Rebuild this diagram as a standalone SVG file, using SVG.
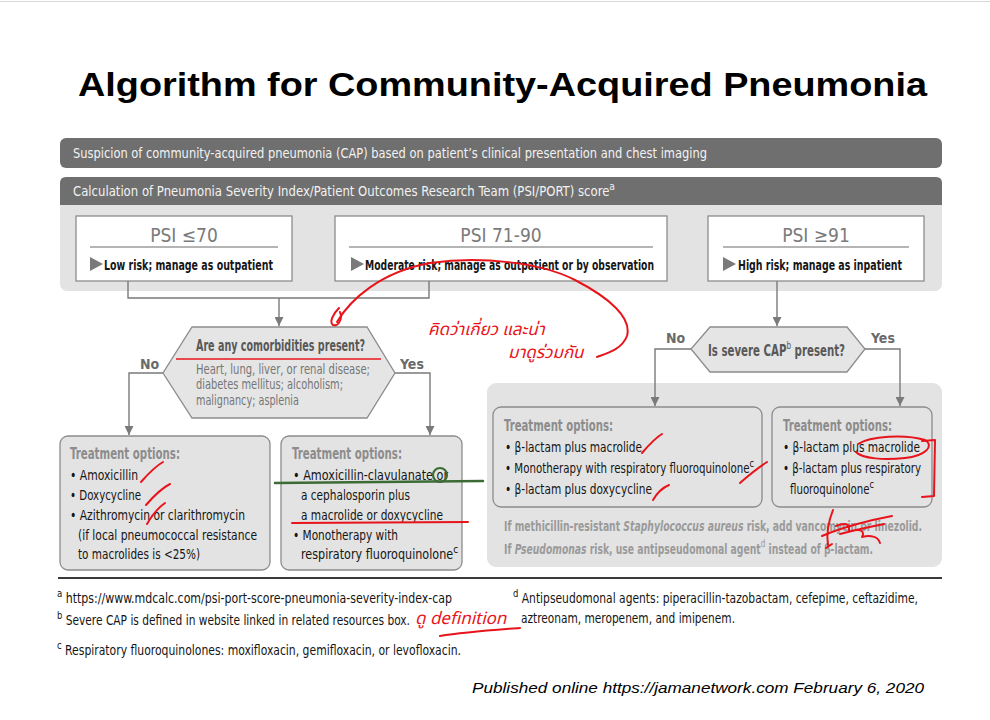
<svg xmlns="http://www.w3.org/2000/svg" width="990" height="720" viewBox="0 0 990 720">
  <style>
    .cn { font-family: "Liberation Sans Narrow", "DejaVu Sans Condensed", "DejaVu Sans", sans-serif; font-stretch: condensed; }
    .bar { fill: #6f6f6f; }
    .bartxt { fill: #f2f2f2; font-size: 14px; }
    .panel { fill: #e3e3e3; }
    .box { fill: #ffffff; stroke: #8c8c8c; stroke-width: 1.3; }
    .tbox { fill: #e3e3e3; stroke: #8c8c8c; stroke-width: 1.3; }
    .hex { fill: #e5e5e5; stroke: #8c8c8c; stroke-width: 1.3; }
    .psi { fill: #7a7a7a; font-size: 19px; text-anchor: middle; }
    .risk { fill: #161616; font-size: 14px; font-weight: bold; }
    .rule { stroke: #6a6a6a; stroke-width: 1; }
    .tri { fill: #7a7a7a; }
    .q { fill: #585858; font-size: 15.5px; font-weight: bold; }
    .qd { fill: #767676; font-size: 13.5px; }
    .lbl { fill: #6a6a6a; font-size: 14px; font-weight: bold; }
    .th { fill: #8c8c8c; font-size: 15px; font-weight: bold; }
    .it { fill: #151515; font-size: 14px; }
    .note { fill: #9a9a9a; font-size: 14px; font-weight: bold; }
    .fn { fill: #151515; font-size: 14px; }
    .sup { font-size: 11px; font-weight: normal; }
    .link { fill: none; stroke: #7a7a7a; stroke-width: 1.4; }
    .pen { fill: none; stroke: #e8141b; stroke-width: 2; stroke-linecap: round; stroke-linejoin: round; }
    .penT { fill: #e8141b; font-family: "Noto Sans Thai", "Loma", "Garuda", "Noto Sans", sans-serif; font-size: 17px; font-style: italic; }
  </style>
  <defs>
    <marker id="arr" viewBox="0 0 10 10" refX="10" refY="5" markerWidth="9" markerHeight="9" markerUnits="userSpaceOnUse" orient="auto">
      <path d="M0,0 L10,5 L0,10 Z" fill="#7a7a7a"/>
    </marker>
  </defs>

  <rect x="0" y="0" width="990" height="720" fill="#ffffff"/>
  <line x1="0" y1="1.5" x2="990" y2="1.5" stroke="#d8d8d8" stroke-width="1"/>

  <!-- Title -->
  <text x="78" y="96" font-family="'Liberation Sans', Arial, sans-serif" font-size="34" font-weight="bold" fill="#000" textLength="849" lengthAdjust="spacingAndGlyphs">Algorithm for Community-Acquired Pneumonia</text>

  <!-- Header bars -->
  <g id="suspicion">
    <rect class="bar" x="60" y="138" width="882" height="30" rx="6"/>
    <text class="cn bartxt" x="73" y="158" textLength="634" lengthAdjust="spacingAndGlyphs">Suspicion of community-acquired pneumonia (CAP) based on patient’s clinical presentation and chest imaging</text>
  </g>

  <g id="psi-panel">
    <rect class="panel" x="60" y="177" width="882" height="114" rx="7"/>
    <path class="bar" d="M60,205 V183 Q60,177 66,177 H936 Q942,177 942,183 V205 Z"/>
    <text class="cn bartxt" x="73" y="196" textLength="542" lengthAdjust="spacingAndGlyphs">Calculation of Pneumonia Severity Index/Patient Outcomes Research Team (PSI/PORT) score<tspan class="sup" dy="-6">a</tspan></text>
  </g>

  <!-- PSI boxes -->
  <g id="psi-low">
    <rect class="box" x="76" y="216" width="216" height="65"/>
    <text class="cn psi" x="184" y="242">PSI ≤70</text>
    <line class="rule" x1="90" y1="247" x2="278" y2="247"/>
    <polygon class="tri" points="90,257 103,264 90,271"/>
    <text class="cn risk" x="104" y="270" textLength="169" lengthAdjust="spacingAndGlyphs">Low risk; manage as outpatient</text>
  </g>
  <g id="psi-moderate">
    <rect class="box" x="335" y="216" width="332" height="65"/>
    <text class="cn psi" x="501" y="242">PSI 71-90</text>
    <line class="rule" x1="349" y1="247" x2="653" y2="247"/>
    <polygon class="tri" points="351,257 364,264 351,271"/>
    <text class="cn risk" x="365" y="270" textLength="289" lengthAdjust="spacingAndGlyphs">Moderate risk; manage as outpatient or by observation</text>
  </g>
  <g id="psi-high">
    <rect class="box" x="708" y="216" width="216" height="65"/>
    <text class="cn psi" x="816" y="242">PSI ≥91</text>
    <line class="rule" x1="723" y1="247" x2="909" y2="247"/>
    <polygon class="tri" points="723,257 736,264 723,271"/>
    <text class="cn risk" x="738" y="270" textLength="164" lengthAdjust="spacingAndGlyphs">High risk; manage as inpatient</text>
  </g>

  <!-- Inpatient treatment panel -->
  <rect class="panel" x="487" y="383" width="455" height="184" rx="9"/>

  <!-- Connectors -->
  <g id="connectors">
    <path class="link" d="M128,281 V298 H429 V281"/>
    <path class="link" d="M279,298 V326" marker-end="url(#arr)"/>
    <path class="link" d="M777,281 V326" marker-end="url(#arr)"/>
    <path class="link" d="M163,373 H129 V435" marker-end="url(#arr)"/>
    <path class="link" d="M395,373 H430 V435" marker-end="url(#arr)"/>
    <path class="link" d="M691,349 H655 V406" marker-end="url(#arr)"/>
    <path class="link" d="M865,349 H900 V406" marker-end="url(#arr)"/>
    <text class="cn lbl" x="140" y="369">No</text>
    <text class="cn lbl" x="400" y="369">Yes</text>
    <text class="cn lbl" x="666" y="343">No</text>
    <text class="cn lbl" x="871" y="343">Yes</text>
  </g>

  <!-- Decision: comorbidities -->
  <g id="comorbidities">
    <polygon class="hex" points="192,327 367,327 395,373 367,418 192,418 163,373"/>
    <text class="cn q" x="196" y="351" textLength="169" lengthAdjust="spacingAndGlyphs">Are any comorbidities present?</text>
    <line x1="176" y1="359" x2="381" y2="359" stroke="#e8141b" stroke-width="1.6"/>
    <text class="cn qd" x="196" y="374" textLength="174" lengthAdjust="spacingAndGlyphs">Heart, lung, liver, or renal disease;</text>
    <text class="cn qd" x="196" y="389" textLength="147" lengthAdjust="spacingAndGlyphs">diabetes mellitus; alcoholism;</text>
    <text class="cn qd" x="196" y="405" textLength="103" lengthAdjust="spacingAndGlyphs">malignancy; asplenia</text>
  </g>

  <!-- Decision: severe CAP -->
  <g id="severe-cap">
    <polygon class="hex" points="710,327 847,327 865,349 847,372 710,372 691,349"/>
    <text class="cn q" x="708" y="356" textLength="137" lengthAdjust="spacingAndGlyphs">Is severe CAP<tspan class="sup" font-size="12" dy="-7">b</tspan><tspan dy="7"> present?</tspan></text>
  </g>

  <!-- Outpatient, no comorbidities -->
  <g id="tx-outpatient">
    <rect class="tbox" x="60" y="436" width="210" height="134" rx="8"/>
    <text class="cn th" x="70" y="459" textLength="110" lengthAdjust="spacingAndGlyphs">Treatment options:</text>
    <text class="cn it" x="70" y="480" textLength="68" lengthAdjust="spacingAndGlyphs">• Amoxicillin</text>
    <text class="cn it" x="70" y="500" textLength="71" lengthAdjust="spacingAndGlyphs">• Doxycycline</text>
    <text class="cn it" x="70" y="520" textLength="175" lengthAdjust="spacingAndGlyphs">• Azithromycin or clarithromycin</text>
    <text class="cn it" x="78" y="540" textLength="179" lengthAdjust="spacingAndGlyphs">(if local pneumococcal resistance</text>
    <text class="cn it" x="78" y="559" textLength="122" lengthAdjust="spacingAndGlyphs">to macrolides is &lt;25%)</text>
  </g>

  <!-- Outpatient, with comorbidities -->
  <g id="tx-comorbid">
    <rect class="tbox" x="281" y="436" width="181" height="134" rx="8"/>
    <text class="cn th" x="292" y="459" textLength="110" lengthAdjust="spacingAndGlyphs">Treatment options:</text>
    <text class="cn it" x="293" y="480" textLength="155" lengthAdjust="spacingAndGlyphs">• Amoxicillin-clavulanate or</text>
    <text class="cn it" x="301" y="500" textLength="109" lengthAdjust="spacingAndGlyphs">a cephalosporin plus</text>
    <text class="cn it" x="301" y="520" textLength="142" lengthAdjust="spacingAndGlyphs">a macrolide or doxycycline</text>
    <text class="cn it" x="293" y="540" textLength="105" lengthAdjust="spacingAndGlyphs">• Monotherapy with</text>
    <text class="cn it" x="301" y="559" textLength="157" lengthAdjust="spacingAndGlyphs">respiratory fluoroquinolone<tspan class="sup" dy="-6">c</tspan></text>
  </g>

  <!-- Inpatient, non-severe -->
  <g id="tx-nonsevere">
    <rect class="tbox" x="493" y="407" width="269" height="100" rx="8"/>
    <text class="cn th" x="504" y="431" textLength="109" lengthAdjust="spacingAndGlyphs">Treatment options:</text>
    <text class="cn it" x="505" y="452" textLength="137" lengthAdjust="spacingAndGlyphs">• β-lactam plus macrolide</text>
    <text class="cn it" x="505" y="473" textLength="249" lengthAdjust="spacingAndGlyphs">• Monotherapy with respiratory fluoroquinolone<tspan class="sup" dy="-6">c</tspan></text>
    <text class="cn it" x="505" y="494" textLength="147" lengthAdjust="spacingAndGlyphs">• β-lactam plus doxycycline</text>
  </g>

  <!-- Inpatient, severe -->
  <g id="tx-severe">
    <rect class="tbox" x="772" y="407" width="160" height="100" rx="8"/>
    <text class="cn th" x="783" y="431" textLength="109" lengthAdjust="spacingAndGlyphs">Treatment options:</text>
    <text class="cn it" x="783" y="452" textLength="137" lengthAdjust="spacingAndGlyphs">• β-lactam plus macrolide</text>
    <text class="cn it" x="783" y="473" textLength="138" lengthAdjust="spacingAndGlyphs">• β-lactam plus respiratory</text>
    <text class="cn it" x="790" y="494" textLength="84" lengthAdjust="spacingAndGlyphs">fluoroquinolone<tspan class="sup" dy="-6">c</tspan></text>
  </g>

  <!-- Risk modifiers -->
  <g id="risk-notes">
    <text class="cn note" x="504" y="531" textLength="418" lengthAdjust="spacingAndGlyphs">If methicillin-resistant <tspan font-style="italic">Staphylococcus aureus</tspan> risk, add vancomycin or linezolid.</text>
    <text class="cn note" x="504" y="554" textLength="369" lengthAdjust="spacingAndGlyphs">If <tspan font-style="italic">Pseudomonas</tspan> risk, use antipseudomonal agent<tspan class="sup" dy="-7">d</tspan><tspan dy="7"> instead of β-lactam.</tspan></text>
  </g>

  <!-- Footnotes -->
  <line x1="58" y1="578" x2="942" y2="578" stroke="#3a3a3a" stroke-width="2"/>
  <g id="footnotes">
    <text class="cn fn" x="57" y="603" textLength="395" lengthAdjust="spacingAndGlyphs"><tspan class="sup" dy="-6">a</tspan><tspan dy="6"> https://www.mdcalc.com/psi-port-score-pneumonia-severity-index-cap</tspan></text>
    <text class="cn fn" x="57" y="625" textLength="353" lengthAdjust="spacingAndGlyphs"><tspan class="sup" dy="-6">b</tspan><tspan dy="6"> Severe CAP is defined in website linked in related resources box.</tspan></text>
    <text class="cn fn" x="57" y="655" textLength="404" lengthAdjust="spacingAndGlyphs"><tspan class="sup" dy="-6">c</tspan><tspan dy="6"> Respiratory fluoroquinolones: moxifloxacin, gemifloxacin, or levofloxacin.</tspan></text>
    <text class="cn fn" x="513" y="603" textLength="405" lengthAdjust="spacingAndGlyphs"><tspan class="sup" dy="-6">d</tspan><tspan dy="6"> Antipseudomonal agents: piperacillin-tazobactam, cefepime, ceftazidime,</tspan></text>
    <text class="cn fn" x="521" y="623" textLength="214" lengthAdjust="spacingAndGlyphs">aztreonam, meropenem, and imipenem.</text>
  </g>

  <text x="472" y="693" font-family="'Liberation Sans', Arial, sans-serif" font-size="15.5" font-style="italic" fill="#000" textLength="452" lengthAdjust="spacingAndGlyphs">Published online https://jamanetwork.com  February 6, 2020</text>

  <!-- Pen annotations -->
  <g id="pen-marks">
    <path class="pen" d="M337,322 C350,300 380,272 430,263 C480,256 540,262 575,280 C610,298 632,318 627,336 C622,349 608,353 597,357"/>
    <path class="pen" d="M339,308 C333,314 329,322 333,325 C338,327 343,319 340,312"/>
    <text class="penT" x="428" y="335">คิดว่าเกี่ยว และน่า</text>
    <text class="penT" x="508" y="358">มาดูร่วมกัน</text>
    <!-- ticks, left outpatient box -->
    <path class="pen" d="M141,482 C148,474 156,466 163,462"/>
    <path class="pen" d="M146,505 C153,497 162,488 170,484"/>
    <path class="pen" d="M147,524 C152,515 158,508 165,503"/>
    <!-- comorbid box -->
    <line x1="275" y1="483" x2="483" y2="481" stroke="#3d6b36" stroke-width="2.5" stroke-linecap="round"/>
    <circle cx="440" cy="475" r="7" fill="none" stroke="#3d6b36" stroke-width="2.2"/>
    <line class="pen" x1="292" y1="523" x2="468" y2="522"/>
    <!-- ticks, non-severe box -->
    <path class="pen" d="M642,453 C648,446 655,438 662,434"/>
    <path class="pen" d="M740,483 C748,476 758,468 767,462"/>
    <path class="pen" d="M653,500 C657,493 662,488 669,485"/>
    <!-- severe box -->
    <path class="pen" d="M858,444 C870,436 905,434 925,440 C935,446 925,456 905,458 C885,460 862,459 856,452"/>
    <path class="pen" d="M922,441 L935,440 L934,496 L922,497"/>
    <!-- scribble over drug name -->
    <path class="pen" stroke-width="2.6" d="M833,510 C829,520 826,532 828,545 M822,536 C840,528 870,520 892,516 M836,526 C845,522 852,524 848,532 C858,528 866,530 862,537 C870,535 878,536 880,543 M826,548 L832,544 M840,534 C855,530 870,527 884,524"/>
    <!-- footnote remark -->
    <text class="penT" x="415" y="624">ดู definition</text>
    <path class="pen" d="M440,636 C465,632 495,630 520,628"/>
  </g>
</svg>
